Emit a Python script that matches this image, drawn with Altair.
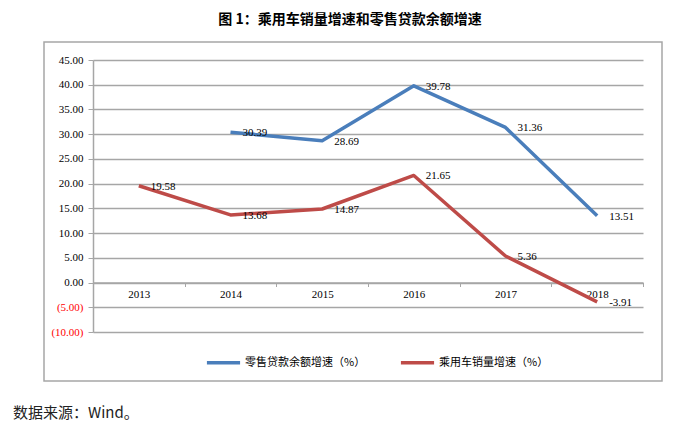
import altair as alt
import pandas as pd

years = [2013, 2014, 2015, 2016, 2017, 2018]
loan_growth = [None, 30.39, 28.69, 39.78, 31.36, 13.51]
car_sales_growth = [19.58, 13.68, 14.87, 21.65, 5.36, -3.91]
series_names = ["零售贷款余额增速（%）", "乘用车销量增速（%）"]
series_colors = ["#4a7ebb", "#be4b48"]
y_ticks = [-10, -5, 0, 5, 10, 15, 20, 25, 30, 35, 40, 45]
x_bounds = [2012.5, 2013.5, 2014.5, 2015.5, 2016.5, 2017.5, 2018.5]
title_text = "图 1：乘用车销量增速和零售贷款余额增速"
source_text = "数据来源：Wind。"

rows = []
for name, vals in zip(series_names, [loan_growth, car_sales_growth]):
    for yr, v in zip(years, vals):
        if v is not None:
            rows.append({"series": name, "year": yr, "value": v})
df = pd.DataFrame(rows)

W, H = 550, 272
GRID = "#a6a6a6"
SERIF = "Liberation Serif"
CJK = "Noto Sans CJK SC"

x_enc = alt.X(
    "year:Q",
    scale=alt.Scale(domain=[x_bounds[0], x_bounds[-1]], nice=False, zero=False),
    axis=alt.Axis(
        orient="bottom",
        offset=-49.5,
        values=x_bounds,
        labelExpr="datum.value < 2018 ? format(datum.value + 0.5, 'd') : ''",
        labelOffset=W / 12,
        labelFlush=False,
        labelOverlap=False,
        grid=False,
        title=None,
        tickSize=4,
        tickColor=GRID,
        domainColor=GRID,
        domainWidth=1.5,
        labelFont=SERIF,
        labelFontSize=11,
        labelColor="#000000",
        labelPadding=2,
    ),
)
y_enc = alt.Y(
    "value:Q",
    scale=alt.Scale(domain=[-10, 45], nice=False, zero=False),
    axis=alt.Axis(
        values=y_ticks,
        labelExpr="datum.value < 0 ? '(' + format(-datum.value, '.2f') + ')' : format(datum.value, '.2f')",
        labelColor={"condition": {"test": "datum.value < 0", "value": "#ff0000"}, "value": "#000000"},
        labelFont=SERIF,
        labelFontSize=11,
        labelPadding=5,
        grid=True,
        gridColor=GRID,
        gridWidth=1.5,
        domainColor=GRID,
        domainWidth=1.5,
        tickColor=GRID,
        tickSize=5,
        title=None,
    ),
)

frame = alt.Chart(pd.DataFrame({"k": [0]})).mark_rect(
    fill="transparent", stroke="#a6a6a6", strokeWidth=1.5
).encode(
    x=alt.value(-49), x2=alt.value(569), y=alt.value(-18), y2=alt.value(321)
)

lines = alt.Chart(df).mark_line(strokeWidth=3.5, strokeJoin="round").encode(
    x=x_enc,
    y=y_enc,
    color=alt.Color(
        "series:N",
        scale=alt.Scale(domain=series_names, range=series_colors),
        legend=alt.Legend(
            orient="none",
            legendX=112,
            legendY=284,
            direction="horizontal",
            title=None,
            symbolType="stroke",
            symbolStrokeWidth=3.5,
            symbolSize=1100,
            labelFont=CJK,
            labelFontSize=11,
            labelColor="#000000",
            columnPadding=27,
            padding=0,
            labelOffset=3,
        ),
    ),
)

labels = alt.Chart(df).transform_calculate(
    label="replace(format(datum.value, '.2f'), '\u2212', '-')"
).mark_text(
    align="left", baseline="middle", dx=12, dy=1, font=SERIF, fontSize=11, color="#000000"
).encode(
    x=x_enc,
    y=y_enc,
    text="label:N",
)

title = alt.Chart(pd.DataFrame({"t": [title_text]})).mark_text(
    align="center", baseline="middle", font=CJK, fontSize=14, fontWeight="bold", color="#000000"
).encode(x=alt.value(257), y=alt.value(-40), text="t:N")

source = alt.Chart(pd.DataFrame({"t": [source_text]})).mark_text(
    align="left", baseline="middle", font=CJK, fontSize=15, color="#222222"
).encode(x=alt.value(-80), y=alt.value(353), text="t:N")

chart = alt.layer(frame, lines, labels, title, source).properties(
    width=W,
    height=H,
    autosize=alt.AutoSizeParams(type="none"),
    padding={"left": 85, "top": 52, "right": 49, "bottom": 91},
).configure_view(stroke=None)

chart.save("out.html", embed_options={"renderer": "svg", "actions": False})
